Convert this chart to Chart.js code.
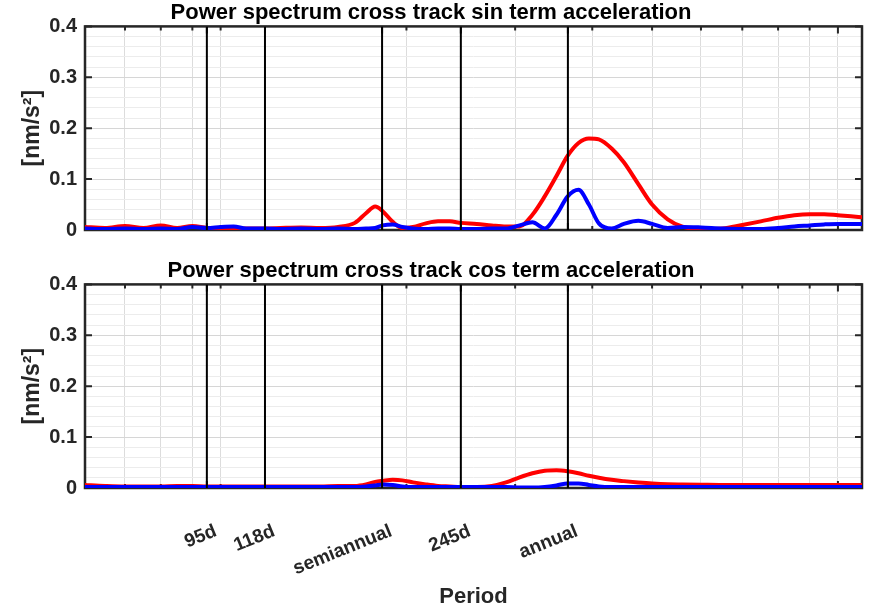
<!DOCTYPE html>
<html>
<head>
<meta charset="utf-8">
<script src="https://cdn.jsdelivr.net/npm/chart.js@4.4.1/dist/chart.umd.min.js"></script>
<style>
  html, body { margin: 0; padding: 0; background: #fff; }
  #wrap { position: relative; width: 872px; height: 608px; }
  .box { position: absolute; left: 0; width: 872px; }
  #topBox { top: 0; height: 250px; }
  #botBox { top: 250px; height: 358px; }
</style>
</head>
<body>
<div id="wrap">
  <div class="box" id="topBox"><canvas id="sinChart"></canvas></div>
  <div class="box" id="botBox"><canvas id="cosChart"></canvas></div>
</div>
<script>
// Periods in days (log axis)
const periods = [60, 65, 70, 75, 80, 85, 90, 95, 100, 105,
                 110, 118, 125, 135, 145, 155, 165, 172, 178, 183,
                 190, 197, 205, 215, 225, 235, 245, 260, 275, 290,
                 305, 320, 335, 350, 365, 380, 395, 410, 430, 450,
                 475, 500, 530, 560, 600, 650, 700, 750, 800, 850,
                 900, 950, 1000, 1050, 1094];

// sin term (top panel)
const sinRed = [0.006, 0.004, 0.008, 0.004, 0.009, 0.004, 0.008, 0.004, 0.003, 0.004,
                0.003, 0.003, 0.004, 0.005, 0.004, 0.006, 0.014, 0.033, 0.046, 0.037,
                0.016, 0.004, 0.006, 0.013, 0.017, 0.017, 0.014, 0.012, 0.009, 0.007,
                0.007, 0.030, 0.066, 0.106, 0.146, 0.171, 0.180, 0.178, 0.160, 0.133,
                0.090, 0.050, 0.021, 0.0065, 0.002, 0.003, 0.010, 0.017, 0.024, 0.029,
                0.031, 0.031, 0.029, 0.027, 0.025];
const sinBlue = [0.003, 0.002, 0.003, 0.002, 0.003, 0.002, 0.006, 0.004, 0.006, 0.007,
                 0.003, 0.003, 0.002, 0.003, 0.002, 0.003, 0.002, 0.003, 0.004, 0.009,
                 0.011, 0.006, 0.003, 0.002, 0.003, 0.003, 0.002, 0.002, 0.003, 0.003,
                 0.009, 0.015, 0.003, 0.030, 0.066, 0.079, 0.050, 0.013, 0.003, 0.012,
                 0.018, 0.012, 0.004, 0.006, 0.005, 0.003, 0.002, 0.002, 0.004, 0.007,
                 0.009, 0.011, 0.012, 0.012, 0.012];

// cos term (bottom panel)
const cosRed = [0.006, 0.004, 0.003, 0.003, 0.003, 0.004, 0.004, 0.003, 0.003, 0.003,
                0.003, 0.003, 0.003, 0.003, 0.003, 0.004, 0.004, 0.007, 0.012, 0.014,
                0.016, 0.015, 0.011, 0.007, 0.004, 0.003, 0.002, 0.002, 0.004, 0.011,
                0.021, 0.029, 0.034, 0.035, 0.033, 0.029, 0.024, 0.020, 0.016, 0.0135,
                0.011, 0.009, 0.0075, 0.007, 0.0065, 0.006, 0.006, 0.006, 0.006, 0.006,
                0.006, 0.006, 0.006, 0.006, 0.006];
const cosBlue = [0.002, 0.002, 0.002, 0.002, 0.002, 0.002, 0.002, 0.002, 0.002, 0.002,
                 0.002, 0.002, 0.002, 0.002, 0.002, 0.002, 0.002, 0.003, 0.005, 0.007,
                 0.006, 0.003, 0.002, 0.002, 0.002, 0.002, 0.002, 0.002, 0.002, 0.002,
                 0.001, 0.001, 0.002, 0.005, 0.009, 0.009, 0.006, 0.003, 0.002, 0.002,
                 0.002, 0.002, 0.002, 0.002, 0.002, 0.002, 0.002, 0.002, 0.002, 0.002,
                 0.002, 0.002, 0.002, 0.002, 0.002];

// Marked periods and axis ticks
const markerPeriods = [95, 118, 182.625, 245, 365.25];
const markerLabels = ['95d', '118d', 'semiannual', '245d', 'annual'];
const gridPeriods = [70, 80, 90, 100, 200, 300, 400, 500, 600, 700, 800, 900, 1000];
const yTicks = [0, 0.1, 0.2, 0.3, 0.4];
const yTickLabels = ['0', '0.1', '0.2', '0.3', '0.4'];
const yMinorStep = 0.02;
const xMin = 60.3;
const xMax = 1094;

const FONT = '"Liberation Sans", Arial, Helvetica, sans-serif';
const AXIS_COLOR = '#262626';

// MATLAB style box with inward ticks, drawn under the data
const matlabAxes = {
    id: 'matlabAxes',
    beforeDatasetsDraw(chart) {
        const { ctx, chartArea: a, scales: { x, y } } = chart;
        ctx.save();
        ctx.strokeStyle = AXIS_COLOR;
        ctx.lineWidth = 2;
        ctx.beginPath();
        gridPeriods.concat(markerPeriods).forEach(p => {
            const px = x.getPixelForValue(p);
            const len = (markerPeriods.includes(p) || p === 1000) ? 7 : 4;
            ctx.moveTo(px, a.top); ctx.lineTo(px, a.top + len);
            ctx.moveTo(px, a.bottom); ctx.lineTo(px, a.bottom - len);
        });
        yTicks.forEach(v => {
            const py = y.getPixelForValue(v);
            ctx.moveTo(a.left, py); ctx.lineTo(a.left + 7, py);
            ctx.moveTo(a.right, py); ctx.lineTo(a.right - 7, py);
        });
        ctx.stroke();
        ctx.lineWidth = 2.5;
        ctx.strokeRect(a.left, a.top, a.right - a.left, a.bottom - a.top);
        ctx.restore();
    }
};

function makeDatasets(red, blue) {
    const sets = markerPeriods.map(p => ({
        data: [{ x: p, y: yTicks[0] }, { x: p, y: yTicks[yTicks.length - 1] }],
        borderColor: '#000',
        borderWidth: 2,
        pointRadius: 0,
        order: 0
    }));
    sets.push({
        data: periods.map((p, i) => ({ x: p, y: blue[i] })),
        borderColor: '#0000ff',
        borderWidth: 4,
        pointRadius: 0,
        cubicInterpolationMode: 'monotone',
        order: 1
    });
    sets.push({
        data: periods.map((p, i) => ({ x: p, y: red[i] })),
        borderColor: '#ff0000',
        borderWidth: 4,
        pointRadius: 0,
        cubicInterpolationMode: 'monotone',
        order: 2
    });
    return sets;
}

function isMajorY(v) {
    return yTicks.some(t => Math.abs(t - v) < 1e-6);
}

function makeChart(canvasId, title, red, blue, showX) {
    return new Chart(document.getElementById(canvasId), {
        type: 'line',
        data: { datasets: makeDatasets(red, blue) },
        plugins: [matlabAxes],
        options: {
            responsive: true,
            maintainAspectRatio: false,
            animation: false,
            layout: { padding: { left: 0, right: 10, top: showX ? 8 : 0, bottom: showX ? 0 : 17 } },
            plugins: {
                legend: { display: false },
                tooltip: { enabled: false },
                title: {
                    display: true,
                    text: title,
                    color: '#000',
                    font: { family: FONT, size: 22, weight: 'bold', lineHeight: 1.2 },
                    padding: { top: 0, bottom: 0 }
                }
            },
            scales: {
                x: {
                    type: 'logarithmic',
                    min: xMin,
                    max: xMax,
                    afterBuildTicks: s => {
                        s.ticks = gridPeriods.concat(markerPeriods)
                            .sort((a, b) => a - b)
                            .map(v => ({ value: v }));
                    },
                    afterFit: s => {
                        s.height = showX ? 120 : 0;
                        s.paddingLeft = 0;
                        s.paddingRight = 0;
                    },
                    grid: {
                        color: c => (c.tick && markerPeriods.includes(c.tick.value)) ? 'rgba(0,0,0,0)' : '#dcdcdc',
                        lineWidth: 1,
                        drawTicks: false
                    },
                    border: { display: false },
                    ticks: {
                        display: showX,
                        autoSkip: false,
                        maxRotation: 22,
                        minRotation: 22,
                        padding: 32,
                        labelOffset: 9,
                        color: AXIS_COLOR,
                        font: { family: FONT, size: 19, weight: 'bold' },
                        callback: v => {
                            const k = markerPeriods.indexOf(v);
                            return k >= 0 ? markerLabels[k] : '';
                        }
                    },
                    title: {
                        display: showX,
                        text: 'Period',
                        color: AXIS_COLOR,
                        font: { family: FONT, size: 22, weight: 'bold', lineHeight: 1 },
                        padding: { top: 0, bottom: 0 }
                    }
                },
                y: {
                    min: yTicks[0],
                    max: yTicks[yTicks.length - 1],
                    afterBuildTicks: s => {
                        const t = [];
                        const n = Math.round((yTicks[yTicks.length - 1] - yTicks[0]) / yMinorStep);
                        for (let i = 0; i <= n; i++) t.push({ value: +(yTicks[0] + i * yMinorStep).toFixed(3) });
                        s.ticks = t;
                    },
                    afterFit: s => { s.width = 85; },
                    grid: {
                        color: c => (c.tick && isMajorY(c.tick.value)) ? '#d6d6d6' : '#ececec',
                        lineWidth: 1,
                        drawTicks: false
                    },
                    border: { display: false },
                    ticks: {
                        autoSkip: false,
                        padding: 8,
                        color: AXIS_COLOR,
                        font: { family: FONT, size: 20, weight: 'bold' },
                        callback: v => {
                            const k = yTicks.findIndex(t => Math.abs(t - v) < 1e-6);
                            return k >= 0 ? yTickLabels[k] : '';
                        }
                    },
                    title: {
                        display: true,
                        text: '[nm/s²]',
                        color: AXIS_COLOR,
                        font: { family: FONT, size: 23, weight: 'bold', lineHeight: 1.2 },
                        padding: { top: 19, bottom: 0 }
                    }
                }
            }
        }
    });
}

makeChart('sinChart', 'Power spectrum cross track sin term acceleration', sinRed, sinBlue, false);
makeChart('cosChart', 'Power spectrum cross track cos term acceleration', cosRed, cosBlue, true);
</script>
</body>
</html>
